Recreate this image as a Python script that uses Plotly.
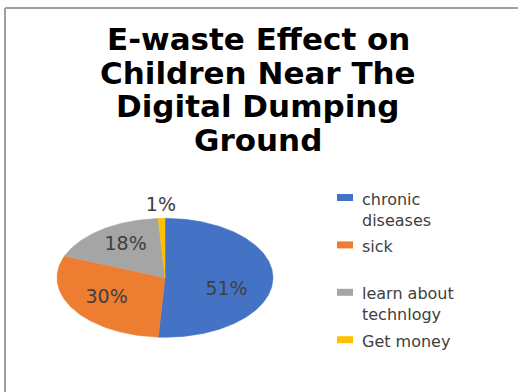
import numpy as np
import plotly.graph_objects as go

# Survey results
categories = ["chronic diseases", "sick", "learn about technlogy", "Get money"]
values = [51, 30, 18, 1]
legend_labels = ["chronic<br>diseases", "sick", "learn about<br>technlogy", "Get money"]
title_lines = ["E-waste Effect on", "Children Near The", "Digital Dumping", "Ground"]

colors = ["#4472C4", "#ED7D31", "#A5A5A5", "#FFC000"]

W, H = 518, 392
CX, CY, RX, RY = 165, 277.8, 108, 59.5          # pie ellipse (pixel space)
LABEL_R = [0.57, 0.64, 0.62, 1.21]               # radial position of each label
LABEL_DY = [11, 0, -3, 0]                        # fine vertical nudge (px, downwards)
TEXT_COL = "#404040"

fig = go.Figure()

total = float(sum(values))
start = 0.0
label_x, label_y = [], []
for i, (name, v, col) in enumerate(zip(categories, values, colors)):
    a0 = start / total * 2 * np.pi
    a1 = (start + v) / total * 2 * np.pi
    t = np.linspace(a0, a1, max(3, int(v * 4)))
    xs = np.concatenate([[CX], CX + RX * np.sin(t), [CX]])
    ys = np.concatenate([[CY], CY - RY * np.cos(t), [CY]])
    fig.add_trace(go.Scatter(
        x=xs, y=ys, mode="lines", fill="toself", fillcolor=col,
        line=dict(color=col, width=0.5), name=name, hoverinfo="name",
        showlegend=False,
    ))
    mid = (a0 + a1) / 2
    label_x.append(CX + RX * LABEL_R[i] * np.sin(mid))
    label_y.append(CY - RY * LABEL_R[i] * np.cos(mid) + LABEL_DY[i])
    start += v

# Percentage labels
fig.add_trace(go.Scatter(
    x=label_x, y=label_y, mode="text",
    text=[f"{v}%" for v in values], textposition="middle center",
    textfont=dict(family="DejaVu Sans", size=19, color=TEXT_COL),
    showlegend=False, hoverinfo="skip",
))

annotations = []
shapes = []

# Title, one line per row
TITLE_Y = [39, 72.5, 106, 139.5]
for line, y in zip(title_lines, TITLE_Y):
    annotations.append(dict(
        x=258, y=y, xref="x", yref="y", text=f"<b>{line}</b>", showarrow=False,
        xanchor="center", yanchor="middle",
        font=dict(family="DejaVu Sans", size=31, color="#000000"),
    ))

# Legend: swatch plus wrapped label
LEG_Y0, LEG_STEP, LEG_FS = 197.5, 47.4, 16
for i, (lab, col) in enumerate(zip(legend_labels, colors)):
    y = LEG_Y0 + i * LEG_STEP
    shapes.append(dict(type="rect", xref="x", yref="y", x0=337, x1=353,
                       y0=y - 3.5, y1=y + 3.5, fillcolor=col, line=dict(width=0)))
    annotations.append(dict(
        x=360, y=y - 10, xref="x", yref="y", text=lab,
        showarrow=False, xanchor="left", yanchor="top", align="left",
        font=dict(family="DejaVu Sans", size=LEG_FS, color=TEXT_COL),
    ))

# Chart area frame (top and left edges)
shapes.append(dict(type="line", xref="x", yref="y", x0=5, x1=W, y0=8, y1=8,
                   line=dict(color="#A0A0A0", width=2)))
shapes.append(dict(type="line", xref="x", yref="y", x0=5, x1=5, y0=8, y1=H,
                   line=dict(color="#A0A0A0", width=2)))

fig.update_layout(
    width=W, height=H, margin=dict(l=0, r=0, t=0, b=0),
    paper_bgcolor="white", plot_bgcolor="white",
    xaxis=dict(range=[0, W], visible=False, fixedrange=True),
    yaxis=dict(range=[H, 0], visible=False, fixedrange=True),
    annotations=annotations, shapes=shapes, showlegend=False,
)

fig.write_html("out.html")
